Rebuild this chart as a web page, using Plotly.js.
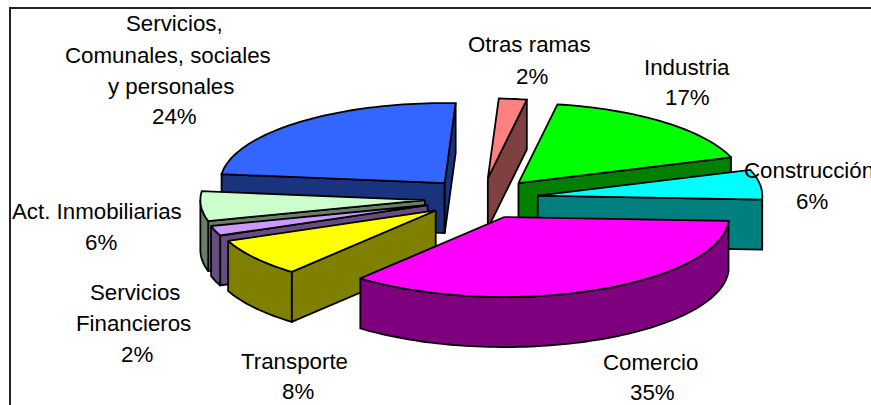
<!DOCTYPE html>
<html><head><meta charset="utf-8">
<script src="https://cdn.plot.ly/plotly-3.0.1.min.js"></script>
<style>html,body{margin:0;padding:0;background:#fff;overflow:hidden}#c{width:871px;height:405px}</style>
</head><body><div id="c"></div>
<script>
// Data (clockwise from the first slice)
const categories = ["Otras ramas","Industria","Construcción","Comercio","Transporte","Servicios Financieros","Act. Inmobiliarias","Servicios, Comunales, sociales y personales"];
const values = [2,17,6,35.3,7.7,2,6,24];
const colors = ["#FF8080","#00FF00","#00FFFF","#FF00FF","#FFFF00","#CC99FF","#CCFFCC","#3366FF"];
const labelLines = [["Otras ramas","2%"],["Industria","17%"],["Construcción","6%"],["Comercio","35%"],["Transporte","8%"],["Servicios","Financieros","2%"],["Act. Inmobiliarias","6%"],["Servicios,","Comunales, sociales","y personales","24%"]];
// Label placement (page pixels)
const labelX = [[529.5,532],[687,687],[808.5,812],[650,652],[294.5,298],[135,133,137],[96.5,101],[174,168,171,174]];
const labelY = [[44,76],[67,97],[170,201],[362,392],[361,391],[292,323,354],[211,242],[23,55,86,116]];
// Pie geometry
const startAngle = 2.8, cx = 481.5, cy = 198.5, rx = 224.5, ry = 80, depth = 50, explode = 0.253;

const rad = d => d*Math.PI/180;
const dark = h => '#'+[1,3,5].map(i=>Math.floor(parseInt(h.substr(i,2),16)/2).toString(16).padStart(2,'0')).join('');
const total = values.reduce((a,b)=>a+b,0);
let acc = startAngle;
const slices = values.map((v,i)=>{const a0=acc,a1=acc+v/total*360;acc=a1;const m=(a0+a1)/2;
  return {i,a0,a1,m,tx:cx+explode*rx*Math.sin(rad(m)),ty:cy-explode*ry*Math.cos(rad(m))};});
const pt = (s,a,dz=0)=>[s.tx+rx*Math.sin(rad(a)), s.ty-ry*Math.cos(rad(a))+dz];
const arc = (s,a0,a1,dz=0)=>{const n=Math.max(2,Math.ceil((a1-a0)/1.5));const o=[];for(let k=0;k<=n;k++)o.push(pt(s,a0+(a1-a0)*k/n,dz));return o;};
const poly = (p,fill,name)=>({type:'scatter',mode:'lines',x:[...p.map(q=>q[0]),p[0][0]],y:[...p.map(q=>q[1]),p[0][1]],
  fill:'toself',fillcolor:fill,line:{color:'#000',width:1.8,simplify:false},hoverinfo:'skip',showlegend:false,name});
const traces=[];
[...slices].sort((a,b)=>Math.cos(rad(b.m))-Math.cos(rad(a.m))).forEach(s=>{
  const top=colors[s.i], side=dark(top), name=categories[s.i];
  const tip=[s.tx,s.ty], tipB=[s.tx,s.ty+depth];
  if(Math.sin(rad(s.a0))<0){traces.push(poly([tip,pt(s,s.a0),pt(s,s.a0,depth),tipB],side,name));}
  if(Math.sin(rad(s.a1))>0){traces.push(poly([tip,pt(s,s.a1),pt(s,s.a1,depth),tipB],side,name));}
  const w0=Math.max(s.a0,90), w1=Math.min(s.a1,270);
  if(w1>w0){traces.push(poly([...arc(s,w0,w1),...arc(s,w0,w1,depth).reverse()],side,name));}
  traces.push(poly([tip,...arc(s,s.a0,s.a1)],top,name));
});
const annotations=[];
labelLines.forEach((ls,i)=>ls.forEach((t,j)=>annotations.push({x:labelX[i][j],y:labelY[i][j],xref:'x',yref:'y',text:t,showarrow:false,xanchor:'center',yanchor:'middle',font:{family:'"Liberation Sans",Arial,sans-serif',size:22.3,color:'#000'}})));
const axis={visible:false,fixedrange:true};
Plotly.newPlot('c',traces,{width:871,height:405,margin:{l:0,r:0,t:0,b:0},paper_bgcolor:'#fff',plot_bgcolor:'#fff',
  xaxis:{...axis,range:[0,871]},yaxis:{...axis,range:[405,0]},annotations,
  shapes:[{type:'line',xref:'x',yref:'y',x0:10,x1:10,y0:8,y1:405,line:{color:'#222',width:2}},
          {type:'line',xref:'x',yref:'y',x0:9,x1:871,y0:8,y1:8,line:{color:'#222',width:2}}]},
  {displayModeBar:false,staticPlot:true});
</script></body></html>
